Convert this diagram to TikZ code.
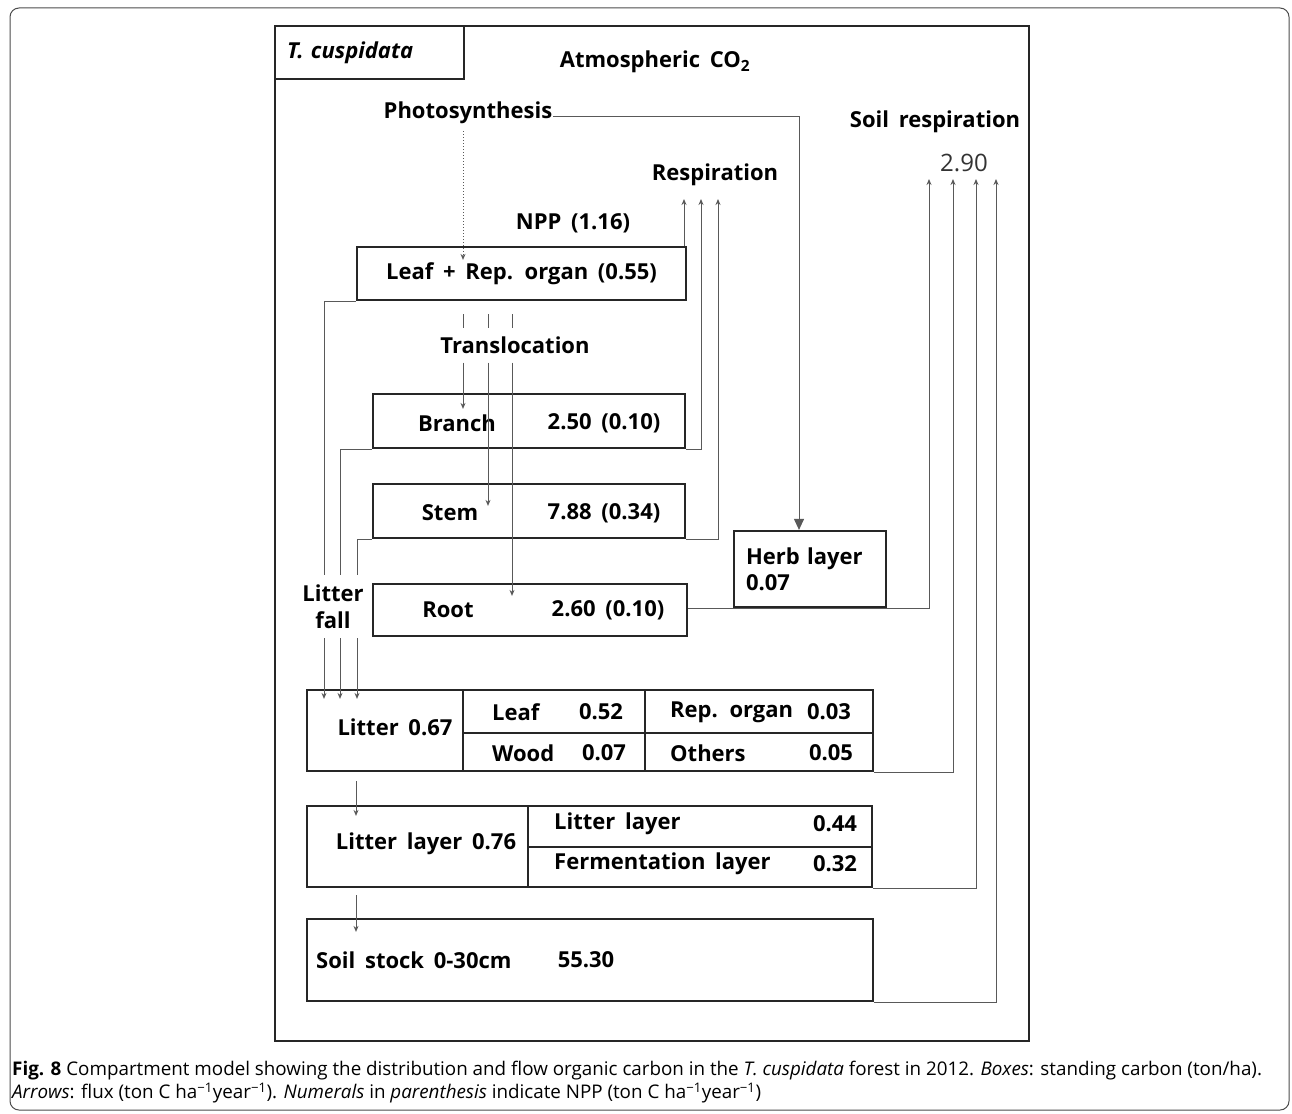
\documentclass[tikz,border=0pt]{standalone}
\usepackage{fontspec}
\setmainfont{Open Sans}
\newfontfamily\diagfont{Open Sans}[WordSpace=1.7]
\usetikzlibrary{arrows.meta}
\tikzset{>={Stealth[length=6pt,width=5pt]}}
\tikzset{
  box/.style={draw=black!85, line width=2.2pt, inner sep=0pt},
  lbl/.style={font=\diagfont\fontsize{22}{26}\selectfont\bfseries, inner sep=1pt},
  cell/.style={lbl, anchor=west},
  flow/.style={draw=black!65, line width=1pt},
}

\begin{document}
\begin{tikzpicture}[x=1pt, y=-1pt]
    \useasboundingbox (0,0) rectangle (1292,1113);
    \draw[black!70, line width=1pt, rounded corners=9pt] (10,8) rectangle (1289,1110);
    \draw[black!85, line width=2pt] (275,26) rectangle (1029,1041);
    \node[box, lbl, minimum width=189pt, minimum height=53pt, text width=165pt, align=left, font=\diagfont\fontsize{22}{26}\selectfont\bfseries\itshape] (species) at (369.5,52.5) {T. cuspidata};
    \node[lbl] (atm) at (655,62) {Atmospheric CO\textsubscript{2}};
    \node[lbl] (photo) at (468,113) {Photosynthesis};
    \node[lbl] (resp) at (715,175) {Respiration};
    \node[lbl] (soilresp) at (935,122) {Soil respiration};
    \node[font=\fontsize{24}{28}\selectfont, text=black!80, inner sep=1pt] (total) at (964,163) {2.90};
    \node[lbl] (npp) at (573,223) {NPP (1.16)};
    \node[box, lbl, minimum width=329pt, minimum height=53pt] (leaf) at (521.5,273.5) {Leaf + Rep. organ (0.55)};
    \node[lbl] (trans) at (515,345) {Translocation};
    \node[box, minimum width=312pt, minimum height=54pt] (branch) at (529,421) {};
    \node[lbl] (branchname) at (457,423) {Branch};
    \node[lbl] (branchval) at (604,423) {2.50 (0.10)};
    \node[box, minimum width=312pt, minimum height=54pt] (stem) at (529,511) {};
    \node[lbl] (stemname) at (450,513) {Stem};
    \node[lbl] (stemval) at (604,513) {7.88 (0.34)};
    \node[box, minimum width=314pt, minimum height=52pt] (root) at (530,610) {};
    \node[lbl] (rootname) at (448,610) {Root};
    \node[lbl] (rootval) at (608,610) {2.60 (0.10)};
    \node[box, lbl, minimum width=152pt, minimum height=76pt, text width=128pt, align=left] (herb) at (810,569) {Herb layer\\0.07};
    \node[lbl, align=center, font=\diagfont\fontsize{22}{27}\selectfont\bfseries] (fall) at (333,607) {Litter\\fall};

    \node[box, minimum width=566pt, minimum height=81pt] (litter) at (590,730.5) {};
    \draw[black!85, line width=1.2pt] (463,690) -- (463,771) (645,690) -- (645,771) (463,733) -- (873,733);
    \node[lbl] (littertotal) at (395,727) {Litter 0.67};
    \node[cell] (lleaf) at (491,712) {Leaf};
    \node[lbl] (lleafval) at (601,712) {0.52};
    \node[cell] (lwood) at (491,753) {Wood};
    \node[lbl] (lwoodval) at (604,753) {0.07};
    \node[cell] (lrep) at (669,712) {Rep. organ};
    \node[lbl] (lrepval) at (829,712) {0.03};
    \node[cell] (lother) at (669,753) {Others};
    \node[lbl] (lotherval) at (831,753) {0.05};

    \node[box, minimum width=565pt, minimum height=81pt] (layer) at (589.5,846.5) {};
    \draw[black!85, line width=1.2pt] (528,806) -- (528,887) (528,847) -- (872,847);
    \node[lbl] (layertotal) at (426,844) {Litter layer 0.76};
    \node[cell] (llit) at (553,824) {Litter layer};
    \node[lbl] (llitval) at (835,824) {0.44};
    \node[cell] (lferm) at (553,864) {Fermentation layer};
    \node[lbl] (lfermval) at (835,864) {0.32};

    \node[box, minimum width=566pt, minimum height=82pt] (soil) at (590,960) {};
    \node[cell] (soilname) at (315,960) {Soil stock 0-30cm};
    \node[lbl] (soilval) at (586,960) {55.30};

    \coordinate (r1) at (684,199);
    \coordinate (r2) at (701,199);
    \coordinate (r3) at (718,199);
    \coordinate (s1) at (929,179);
    \coordinate (s2) at (953,179);
    \coordinate (s3) at (976,179);
    \coordinate (s4) at (996,179);
    \coordinate (f1) at (324,575);
    \coordinate (f2) at (340,575);
    \coordinate (f3) at (357,575);
    \coordinate (t1) at (463,0);
    \coordinate (t2) at (488,0);
    \coordinate (t3) at (512,0);
    \coordinate (lane) at (356,0);

    \draw[flow, -{Triangle[length=11pt,width=10pt]}] ([yshift=-4pt]photo.east) -| ([xshift=-11pt]herb.north);
    \draw[flow, dotted, ->] ([yshift=-6pt]photo.south -| t1) -- ([yshift=-14pt]leaf.north -| t1);
    \draw[flow, ->] (leaf.north east -| r1) -- (r1);
    \draw[flow, ->] (branch.south east) -| (r2);
    \draw[flow, ->] (stem.south east) -| (r3);
    \foreach \i in {1,2,3}
        \draw[flow] ([yshift=-13pt]leaf.south -| t\i) -- ([yshift=7pt]trans.north -| t\i);
    \draw[flow, ->] ([yshift=-8pt]trans.south -| t1) -- ([yshift=-16pt]branch.north -| t1);
    \draw[flow, ->] ([yshift=-8pt]trans.south -| t2) -- ([yshift=-23pt]stem.north -| t2);
    \draw[flow, ->] ([yshift=-8pt]trans.south -| t3) -- ([yshift=-13pt]root.north -| t3);
    \draw[flow] (leaf.south west) -| (f1);
    \draw[flow] (branch.south west) -| (f2);
    \draw[flow] (stem.south west) -| (f3);
    \foreach \i in {1,2,3}
        \draw[flow, ->] ([yshift=-8pt]fall.south -| f\i) -- ([yshift=-10pt]litter.north -| f\i);
    \draw[flow, ->] ([yshift=-9pt]litter.south -| lane) -- ([yshift=-11pt]layer.north -| lane);
    \draw[flow, ->] ([yshift=-7pt]layer.south -| lane) -- ([yshift=-14pt]soil.north -| lane);
    \draw[flow, ->] (root.east |- herb.south) -| (s1);
    \draw[flow, ->] (litter.south east) -| (s2);
    \draw[flow, ->] (layer.south east) -| (s3);
    \draw[flow, ->] (soil.south east) -| (s4);

    \node[anchor=west, inner sep=0pt, font=\fontsize{18.8}{22}\selectfont] (caption1) at (12,1071) {\textbf{Fig. 8} Compartment model showing the distribution and flow organic carbon in the \textit{T. cuspidata} forest in 2012. \textit{Boxes}: standing carbon (ton/ha).};
    \node[anchor=west, inner sep=0pt, font=\fontsize{18.8}{22}\selectfont] (caption2) at (12,1093) {\textit{Arrows}: flux (ton C ha\textsuperscript{−1}year\textsuperscript{−1}). \textit{Numerals} in \textit{parenthesis} indicate NPP (ton C ha\textsuperscript{−1}year\textsuperscript{−1})};
\end{tikzpicture}
\end{document}
